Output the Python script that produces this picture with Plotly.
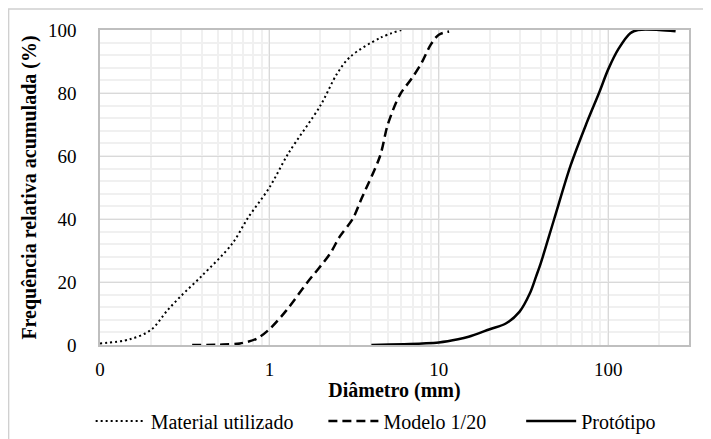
import plotly.graph_objects as go

# Data
material_d = [0.1, 0.15, 0.2, 0.25, 0.3, 0.4, 0.6, 0.75, 1.0, 1.3, 2.0, 2.5, 3.0, 4.5, 6.0]
material_p = [0.5, 1.8, 4.8, 11, 15.5, 22, 32, 40.5, 50, 61, 76, 86, 91.5, 97.5, 100]

modelo_d = [0.35, 0.5, 0.67, 0.84, 1.0, 1.26, 1.66, 2.28, 2.6, 3.1, 3.5, 4.5, 5.0, 5.9, 6.9, 7.9, 9.0, 10.0, 11.5]
modelo_p = [0, 0.1, 0.5, 2, 5, 11, 19.6, 29, 34.4, 40, 46.5, 60, 70, 79.5, 84.5, 89.5, 95.5, 98.5, 99.5]

prototipo_d = [4.0, 8.0, 10, 13, 15, 20, 25, 30, 34.5, 37.5, 40, 48, 60, 74, 89, 100, 115, 135, 150, 200, 250]
prototipo_p = [0, 0.5, 0.8, 1.8, 2.6, 5.0, 6.9, 10.6, 16.4, 21.7, 26, 40, 57, 70, 80.5, 87.5, 94, 99, 100, 100, 99.6]

x_tickvals = [0.1, 1, 10, 100]
x_ticktext = ["0", "1", "10", "100"]
y_tickvals = [0, 20, 40, 60, 80, 100]

FONT = "Liberation Serif, Times New Roman, serif"
FS = 20
TFS = 19
NB = "\u00a0"

fig = go.Figure()
fig.add_trace(go.Scatter(x=material_d, y=material_p, mode="lines", name="Material utilizado" + NB * 5,
                         line=dict(color="black", width=2, dash="2px,3px", shape="spline", smoothing=0.9)))
fig.add_trace(go.Scatter(x=modelo_d, y=modelo_p, mode="lines", name="Modelo 1/20" + NB * 6,
                         line=dict(color="black", width=2.5, dash="9px,5px", shape="spline", smoothing=0.9)))
fig.add_trace(go.Scatter(x=prototipo_d, y=prototipo_p, mode="lines", name="Protótipo",
                         line=dict(color="black", width=2.5, shape="spline", smoothing=0.9)))

fig.update_xaxes(type="log", range=[-1, 2.477], tickvals=x_tickvals, ticktext=x_ticktext,
                 showgrid=True, gridcolor="#d9d9d9", gridwidth=1,
                 minor=dict(dtick="D1", showgrid=True, gridcolor="#f0f0f0", gridwidth=1.5, ticks=""),
                 showline=True, linecolor="#bfbfbf", linewidth=1.5, mirror=True,
                 ticks="", ticklabelstandoff=6, zeroline=False, automargin=False,
                 tickfont=dict(family=FONT, size=TFS, color="black"),
                 title=dict(text="<b>Diâmetro (mm)</b>", font=dict(family=FONT, size=FS, color="black"), standoff=4))
fig.update_yaxes(range=[0, 100], tickvals=y_tickvals,
                 showgrid=True, gridcolor="#d9d9d9", gridwidth=1,
                 minor=dict(dtick=4, showgrid=True, gridcolor="#f0f0f0", gridwidth=1.5, ticks=""),
                 showline=True, linecolor="#bfbfbf", linewidth=1.5, mirror=True,
                 ticks="", ticklabelstandoff=18, zeroline=False, automargin=False,
                 tickfont=dict(family=FONT, size=TFS, color="black"),
                 title=dict(text="<b>Frequência relativa acumulada (%)</b>",
                            font=dict(family=FONT, size=FS, color="black"), standoff=6))

fig.add_shape(type="rect", xref="paper", yref="paper", x0=-0.1552, y0=-0.5, x1=1.2, y1=1.0667,
              line=dict(color="#d0d0d0", width=1.5), fillcolor="rgba(0,0,0,0)", layer="below")

fig.update_layout(
    width=711, height=439,
    margin=dict(l=92, r=29.5, t=22, b=102, autoexpand=False),
    paper_bgcolor="white", plot_bgcolor="white",
    font=dict(family=FONT, size=FS, color="black"),
    legend=dict(orientation="h", x=0.468, xanchor="center", yref="container", y=0.059, yanchor="middle",
                font=dict(family=FONT, size=FS, color="black"), itemwidth=50,
                bgcolor="rgba(0,0,0,0)", traceorder="normal"),
    showlegend=True,
)

fig.write_html("out.html")
